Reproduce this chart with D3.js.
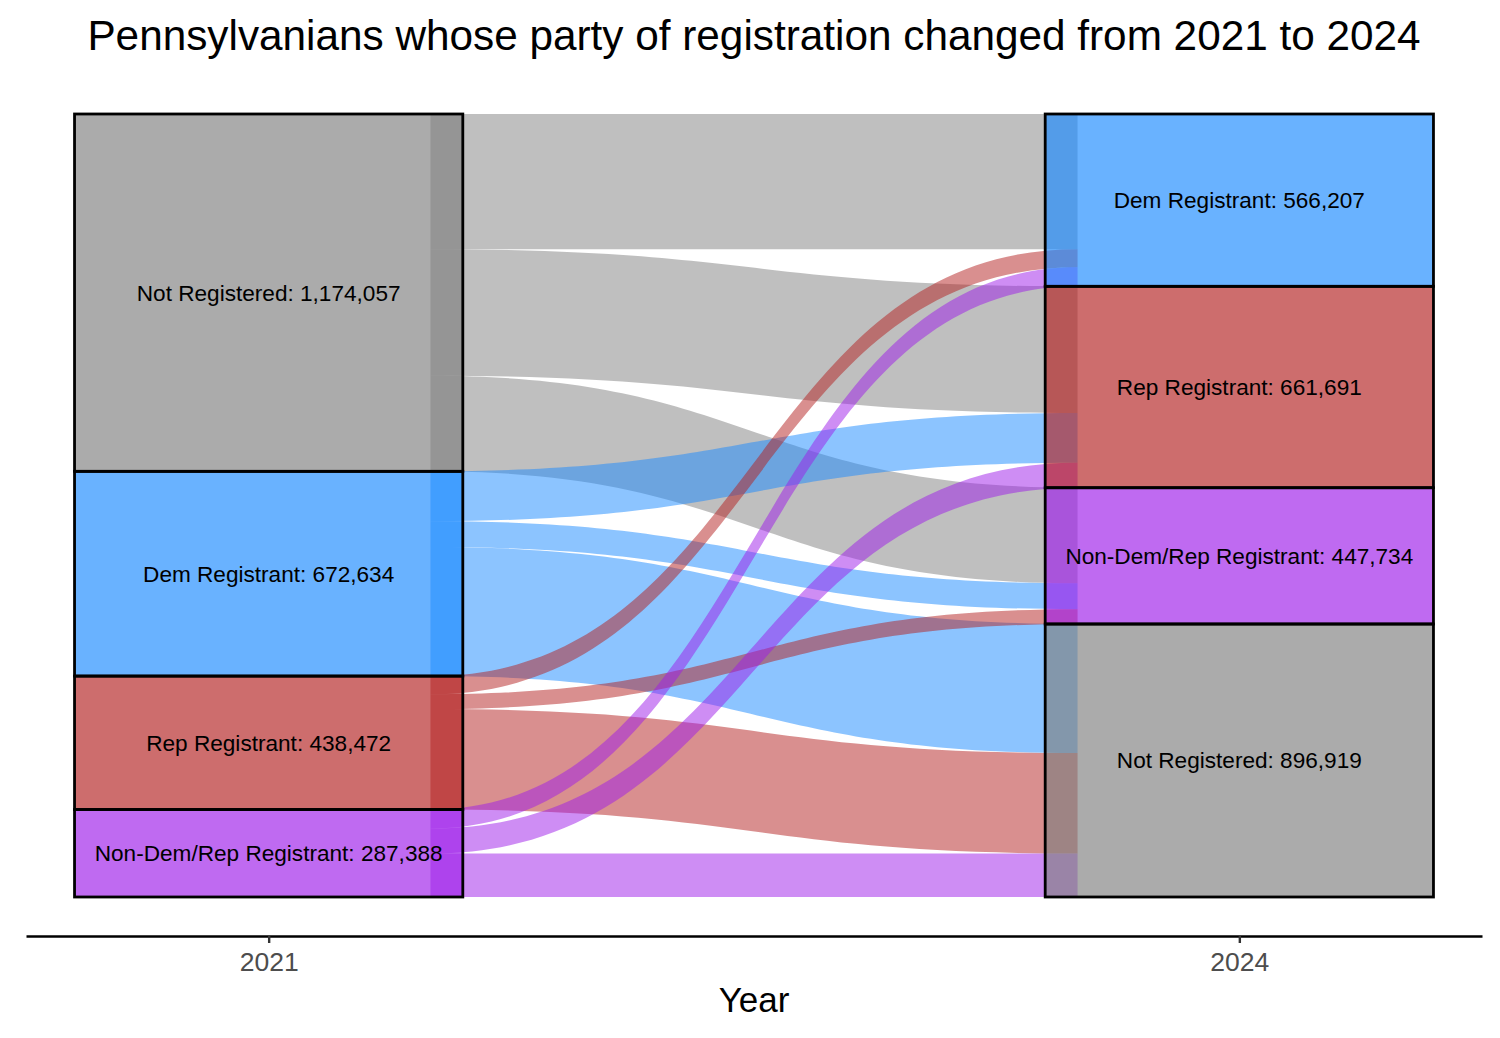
<!DOCTYPE html>
<html>
<head>
<meta charset="utf-8">
<script src="https://cdn.jsdelivr.net/npm/d3@7"></script>
<style>
  body { margin: 0; background: #fff; }
  svg { display: block; font-family: "Liberation Sans", Arial, Helvetica, sans-serif; }
</style>
</head>
<body>
<svg id="chart" width="1500" height="1038"></svg>
<script>
// ---- data ----
const years = ["2021", "2024"];
const leftStrata = ["Not Registered", "Dem Registrant", "Rep Registrant", "Non-Dem/Rep Registrant"];
const leftTotals = [1174057, 672634, 438472, 287388];
const rightStrata = ["Dem Registrant", "Rep Registrant", "Non-Dem/Rep Registrant", "Not Registered"];
const rightTotals = [566207, 661691, 447734, 896919];

const flowFrom = [
  "Not Registered", "Not Registered", "Not Registered",
  "Dem Registrant", "Dem Registrant", "Dem Registrant",
  "Rep Registrant", "Rep Registrant", "Rep Registrant",
  "Non-Dem/Rep Registrant", "Non-Dem/Rep Registrant", "Non-Dem/Rep Registrant"
];
const flowTo = [
  "Dem Registrant", "Rep Registrant", "Non-Dem/Rep Registrant",
  "Rep Registrant", "Non-Dem/Rep Registrant", "Not Registered",
  "Dem Registrant", "Non-Dem/Rep Registrant", "Not Registered",
  "Dem Registrant", "Rep Registrant", "Not Registered"
];
const flowValue = [
  444000, 416000, 314057,
  163691, 85000, 423943,
  59819, 48677, 329976,
  62388, 82000, 143000
];

const partyNames = ["Not Registered", "Dem Registrant", "Rep Registrant", "Non-Dem/Rep Registrant"];
const partyColors = ["#7f7f7f", "#1a8aff", "#b32020", "#9d1cea"];

// ---- setup ----
const svg = d3.select("#chart");
const color = d3.scaleOrdinal().domain(partyNames).range(partyColors);
const total = d3.sum(leftTotals);

const x = d3.scaleLinear().domain([0.75, 2.25]).range([26, 1482]);
const y = d3.scaleLinear().domain([0, total]).range([114, 897]);

const stratumHalf = 0.2;
const flowHalf = 1 / 6;

function stack(names, totals) {
  let acc = 0;
  const m = {};
  names.forEach((n, i) => { m[n] = { y0: acc, y1: acc + totals[i], total: totals[i] }; acc += totals[i]; });
  return m;
}
const L = stack(leftStrata, leftTotals);
const R = stack(rightStrata, rightTotals);

const flows = flowFrom.map((f, i) => ({ from: f, to: flowTo[i], value: flowValue[i] }));
const leftCursor = {};
leftStrata.forEach(n => leftCursor[n] = L[n].y0);
leftStrata.forEach(src => {
  rightStrata.forEach(dst => {
    flows.filter(d => d.from === src && d.to === dst).forEach(d => {
      d.l0 = leftCursor[src]; d.l1 = leftCursor[src] + d.value; leftCursor[src] = d.l1;
    });
  });
});
const rightCursor = {};
rightStrata.forEach(n => rightCursor[n] = R[n].y0);
rightStrata.forEach(dst => {
  leftStrata.forEach(src => {
    flows.filter(d => d.from === src && d.to === dst).forEach(d => {
      d.r0 = rightCursor[dst]; d.r1 = rightCursor[dst] + d.value; rightCursor[dst] = d.r1;
    });
  });
});

// ---- flows ----
const fx0 = x(1 + flowHalf), fx1 = x(2 - flowHalf), fxm = (fx0 + fx1) / 2;
function flowPath(d) {
  const p = d3.path();
  p.moveTo(fx0, y(d.l0));
  p.bezierCurveTo(fxm, y(d.l0), fxm, y(d.r0), fx1, y(d.r0));
  p.lineTo(fx1, y(d.r1));
  p.bezierCurveTo(fxm, y(d.r1), fxm, y(d.l1), fx0, y(d.l1));
  p.closePath();
  return p.toString();
}
const orderedFlows = [];
leftStrata.forEach(src => flows.filter(d => d.from === src).forEach(d => orderedFlows.push(d)));

svg.append("g").selectAll("path").data(orderedFlows).join("path")
  .attr("d", flowPath)
  .attr("fill", d => color(d.from))
  .attr("fill-opacity", 0.5);

// ---- strata ----
const strata = [];
leftStrata.forEach((n, i) => strata.push({ axis: 1, name: n, y0: L[n].y0, y1: L[n].y1, total: leftTotals[i] }));
rightStrata.forEach((n, i) => strata.push({ axis: 2, name: n, y0: R[n].y0, y1: R[n].y1, total: rightTotals[i] }));

const sg = svg.append("g");
sg.selectAll("rect.fill").data(strata).join("rect")
  .attr("class", "fill")
  .attr("x", d => x(d.axis - stratumHalf))
  .attr("y", d => y(d.y0))
  .attr("width", d => x(d.axis + stratumHalf) - x(d.axis - stratumHalf))
  .attr("height", d => y(d.y1) - y(d.y0))
  .attr("fill", d => color(d.name))
  .attr("fill-opacity", 0.656);
sg.selectAll("rect.border").data(strata).join("rect")
  .attr("class", "border")
  .attr("x", d => x(d.axis - stratumHalf))
  .attr("y", d => y(d.y0))
  .attr("width", d => x(d.axis + stratumHalf) - x(d.axis - stratumHalf))
  .attr("height", d => y(d.y1) - y(d.y0))
  .attr("fill", "none")
  .attr("stroke", "#000")
  .attr("stroke-width", 2.8);

const fmt = d3.format(",");
sg.selectAll("text").data(strata).join("text")
  .attr("x", d => x(d.axis))
  .attr("y", d => (y(d.y0) + y(d.y1)) / 2)
  .attr("dy", "0.35em")
  .attr("text-anchor", "middle")
  .attr("font-size", 22.6)
  .attr("fill", "#000")
  .text(d => `${d.name}: ${fmt(d.total)}`);

// ---- axis ----
const axisG = svg.append("g")
  .attr("transform", "translate(0,936)")
  .call(d3.axisBottom(x).tickValues([1, 2]).tickFormat(v => years[v - 1]).tickSizeOuter(0).tickSizeInner(7).tickPadding(9));
axisG.select(".domain").attr("stroke", "#000").attr("stroke-width", 2.6);
axisG.selectAll(".tick line").attr("stroke", "#333").attr("stroke-width", 2.4);
axisG.selectAll(".tick text").attr("fill", "#4d4d4d").attr("font-size", 26.5)
  .attr("font-family", "'Liberation Sans', Arial, sans-serif");

svg.append("text")
  .attr("x", (x(0.75) + x(2.25)) / 2)
  .attr("y", 1012)
  .attr("text-anchor", "middle")
  .attr("font-size", 35)
  .attr("fill", "#000")
  .text("Year");

// ---- title ----
svg.append("text")
  .attr("x", (x(0.75) + x(2.25)) / 2)
  .attr("y", 50)
  .attr("text-anchor", "middle")
  .attr("font-size", 42.3)
  .attr("fill", "#000")
  .text("Pennsylvanians whose party of registration changed from 2021 to 2024");
</script>
</body>
</html>
